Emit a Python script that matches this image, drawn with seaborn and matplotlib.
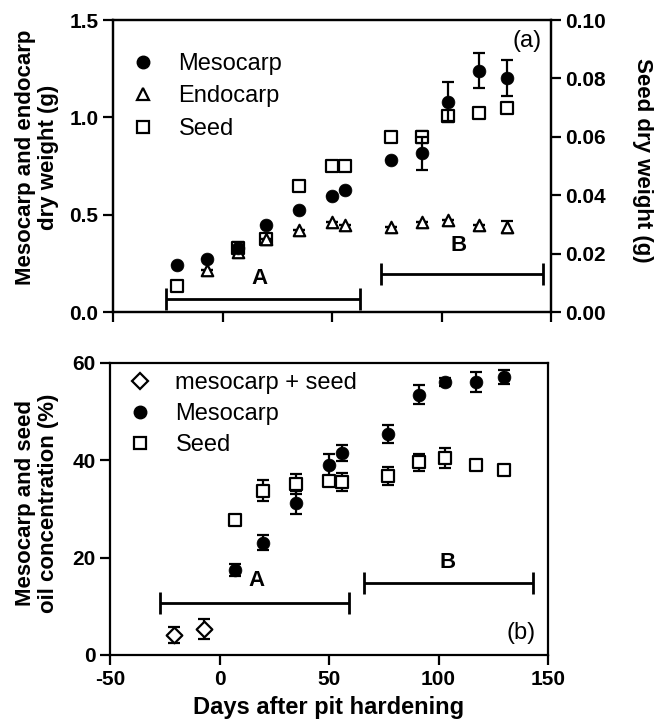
import matplotlib
matplotlib.use("Agg")
import matplotlib.pyplot as plt
import seaborn as sns
import pandas as pd
import numpy as np
from matplotlib.lines import Line2D

sns.set_style("ticks")
plt.rcParams['font.family'] = ['Liberation Sans', 'DejaVu Sans']
plt.rcParams['axes.unicode_minus'] = False
for k in ['text.color', 'axes.labelcolor', 'xtick.color', 'ytick.color', 'axes.edgecolor']:
    plt.rcParams[k] = 'black'
plt.rcParams['axes.linewidth'] = 1.6
plt.rcParams['xtick.major.width'] = 1.6
plt.rcParams['ytick.major.width'] = 1.6
plt.rcParams['xtick.major.size'] = 7
plt.rcParams['ytick.major.size'] = 7
plt.rcParams['xtick.direction'] = 'out'
plt.rcParams['ytick.direction'] = 'out'

# ---------------- Data: panel (a) dry weight ----------------
meso_days = [-21, -7, 7, 20, 35, 50, 56, 77, 91, 103, 117, 130]
meso_dw = [0.24, 0.27, 0.33, 0.445, 0.525, 0.595, 0.625, 0.78, 0.815, 1.08, 1.24, 1.20]
meso_dw_err = [0, 0, 0, 0, 0, 0, 0, 0, 0.085, 0.10, 0.088, 0.092]

endo_days = [-7, 7, 20, 35, 50, 56, 77, 91, 103, 117, 130]
endo_dw = [0.215, 0.31, 0.375, 0.42, 0.46, 0.445, 0.435, 0.46, 0.475, 0.445, 0.435]
endo_dw_err = [0, 0, 0, 0, 0, 0, 0, 0, 0, 0, 0.03]

seed_days = [-21, 7, 20, 35, 50, 56, 77, 91, 103, 117, 130]
seed_dw = [0.009, 0.022, 0.025, 0.043, 0.050, 0.050, 0.060, 0.060, 0.067, 0.068, 0.070]
seed_dw_err = [0, 0.002, 0, 0, 0, 0, 0, 0.002, 0.002, 0, 0]

# ---------------- Data: panel (b) oil concentration ----------------
ms_days = [-21, -7]
ms_oil = [4.1, 5.3]
ms_oil_err = [1.6, 2.0]

oil_days = [7, 20, 35, 50, 56, 77, 91, 103, 117, 130]
meso_oil = [17.5, 23.1, 31.3, 39.1, 41.5, 45.4, 53.5, 56.1, 56.1, 57.1]
meso_oil_err = [1.2, 1.6, 2.3, 2.3, 1.6, 1.8, 2.0, 0.8, 2.0, 1.4]
seed_oil = [27.8, 33.8, 35.1, 35.7, 35.5, 36.8, 39.6, 40.5, 39.0, 38.1]
seed_oil_err = [0.8, 2.2, 2.0, 1.0, 1.9, 1.9, 1.8, 2.0, 0.8, 0.8]

# Stage ranges (start, end days) and labels
stage_labels = ["A", "B"]
stage_a_top = [(-26, 63), (72.5, 146.5)]
stage_y_top = [0.067, 0.195]
stage_b_bot = [(-27, 59), (66, 143)]
stage_y_bot = [10.6, 14.75]

df_meso = pd.DataFrame({"day": meso_days, "dw": meso_dw, "err": meso_dw_err})
df_endo = pd.DataFrame({"day": endo_days, "dw": endo_dw, "err": endo_dw_err})
df_seed = pd.DataFrame({"day": seed_days, "dw": seed_dw, "err": seed_dw_err})
df_ms = pd.DataFrame({"day": ms_days, "oil": ms_oil, "err": ms_oil_err})
df_mo = pd.DataFrame({"day": oil_days, "oil": meso_oil, "err": meso_oil_err})
df_so = pd.DataFrame({"day": oil_days, "oil": seed_oil, "err": seed_oil_err})

W, H = 662, 723
fig = plt.figure(figsize=(W / 100, H / 100), dpi=100)
ax1 = fig.add_axes([113 / W, 1 - 312 / H, 438 / W, 292 / H])
ax1b = ax1.twinx()
ax2 = fig.add_axes([110 / W, 1 - 655 / H, 438 / W, 292 / H])

MS = 85
LW = 1.6
CAP = 4.5
tick_fs = 15
lab_fs = 16

def ebar(ax, df, ycol, z=3):
    ax.errorbar(df["day"], df[ycol], yerr=df["err"], fmt="none", ecolor="black",
                elinewidth=LW, capsize=CAP, capthick=LW, zorder=z)

# ---- Panel (a) ----
ebar(ax1b, df_seed, "dw", z=2)
sns.scatterplot(data=df_seed, x="day", y="dw", ax=ax1b, marker="s", s=MS,
                facecolor="white", edgecolor="black", linewidth=LW, zorder=3, legend=False)
ax1.set_zorder(ax1b.get_zorder() + 1)
ax1.patch.set_visible(False)

ebar(ax1, df_endo, "dw")
sns.scatterplot(data=df_endo, x="day", y="dw", ax=ax1, marker="^", s=MS * 0.8,
                facecolor="white", edgecolor="black", linewidth=LW, zorder=4, legend=False)
ebar(ax1, df_meso, "dw")
sns.scatterplot(data=df_meso, x="day", y="dw", ax=ax1, marker="o", s=MS,
                color="black", edgecolor="black", linewidth=0.5, zorder=5, legend=False)

for (s0, s1), yy in zip(stage_a_top, stage_y_top):
    ax1.errorbar([(s0 + s1) / 2], [yy], xerr=[(s1 - s0) / 2], fmt="none", ecolor="black",
                 elinewidth=2, capsize=8, capthick=2)
ax1.text(16.8, 0.173, "A", fontsize=16, fontweight="bold", ha="center", va="center")
ax1.text(108, 0.344, "B", fontsize=16, fontweight="bold", ha="center", va="center")
ax1.text(139, 1.39, "(a)", fontsize=17, ha="center", va="center")

ax1.set_xlim(-50, 150)
ax1.set_ylim(0, 1.5)
ax1b.set_ylim(0, 0.10)
ax1.set_xticks([-50, 0, 50, 100, 150])
ax1.set_xticklabels([])
ax1.set_yticks([0, 0.5, 1.0, 1.5])
ax1.set_yticklabels(["0.0", "0.5", "1.0", "1.5"])
ax1b.set_yticks([0, 0.02, 0.04, 0.06, 0.08, 0.10])
ax1b.set_yticklabels(["0.00", "0.02", "0.04", "0.06", "0.08", "0.10"])
ax1.set_xlabel("")
ax1.set_ylabel("Mesocarp and endocarp\ndry weight (g)", fontsize=lab_fs, fontweight="bold",
               va="center", linespacing=1.15)
ax1.yaxis.set_label_coords((37 - 113) / 438, 0.53)
ax1b.set_ylabel("Seed dry weight (g)", fontsize=lab_fs, fontweight="bold", rotation=270,
                va="center")
ax1b.yaxis.set_label_coords((642 - 113) / 438, 0.52)
for a in (ax1, ax1b):
    for t in a.get_yticklabels():
        t.set_fontsize(tick_fs)
        t.set_fontweight("bold")

h_top = [Line2D([], [], ls="none", marker="o", ms=9, mfc="black", mec="black"),
         Line2D([], [], ls="none", marker="^", ms=8, mfc="white", mec="black", mew=LW),
         Line2D([], [], ls="none", marker="s", ms=9, mfc="white", mec="black", mew=LW)]
ax1.legend(h_top, ["Mesocarp", "Endocarp", "Seed"], loc="upper left",
           bbox_to_anchor=(0.02, 0.92), frameon=False, fontsize=17,
           handlelength=1.0, handletextpad=1.0, labelspacing=0.45, borderaxespad=0)

# ---- Panel (b) ----
ebar(ax2, df_ms, "oil")
sns.scatterplot(data=df_ms, x="day", y="oil", ax=ax2, marker="D", s=MS * 0.75,
                facecolor="white", edgecolor="black", linewidth=LW, zorder=4, legend=False)
ebar(ax2, df_so, "oil")
sns.scatterplot(data=df_so, x="day", y="oil", ax=ax2, marker="s", s=MS,
                facecolor="white", edgecolor="black", linewidth=LW, zorder=4, legend=False)
ebar(ax2, df_mo, "oil")
sns.scatterplot(data=df_mo, x="day", y="oil", ax=ax2, marker="o", s=MS,
                color="black", edgecolor="black", linewidth=0.5, zorder=5, legend=False)

for (s0, s1), yy in zip(stage_b_bot, stage_y_bot):
    ax2.errorbar([(s0 + s1) / 2], [yy], xerr=[(s1 - s0) / 2], fmt="none", ecolor="black",
                 elinewidth=2, capsize=8, capthick=2)
ax2.text(16.7, 15.4, "A", fontsize=16, fontweight="bold", ha="center", va="center")
ax2.text(104, 19.0, "B", fontsize=16, fontweight="bold", ha="center", va="center")
ax2.text(137.5, 4.5, "(b)", fontsize=17, ha="center", va="center")

ax2.set_xlim(-50, 150)
ax2.set_ylim(0, 60)
ax2.set_xticks([-50, 0, 50, 100, 150])
ax2.set_yticks([0, 20, 40, 60])
ax2.set_xlabel("Days after pit hardening", fontsize=17, fontweight="bold", labelpad=5)
ax2.set_ylabel("Mesocarp and seed\noil concentration (%)", fontsize=lab_fs, fontweight="bold",
               va="center", linespacing=1.15)
ax2.yaxis.set_label_coords((37 - 110) / 438, 0.52)
for t in ax2.get_xticklabels() + ax2.get_yticklabels():
    t.set_fontsize(tick_fs)
    t.set_fontweight("bold")

h_bot = [Line2D([], [], ls="none", marker="D", ms=8, mfc="white", mec="black", mew=LW),
         Line2D([], [], ls="none", marker="o", ms=9, mfc="black", mec="black"),
         Line2D([], [], ls="none", marker="s", ms=9, mfc="white", mec="black", mew=LW)]
ax2.legend(h_bot, ["mesocarp + seed", "Mesocarp", "Seed"], loc="upper left",
           bbox_to_anchor=(0.02, 1.0), frameon=False, fontsize=17,
           handlelength=1.0, handletextpad=1.0, labelspacing=0.38, borderaxespad=0)

for a in (ax1, ax1b, ax2):
    for sp in a.spines.values():
        sp.set_visible(True)
        sp.set_linewidth(1.6)
ax2.tick_params(axis="both", which="both", top=False, right=False)
ax1.tick_params(top=False)
ax1b.tick_params(right=True, left=False)

fig.savefig("out.png", dpi=100)
